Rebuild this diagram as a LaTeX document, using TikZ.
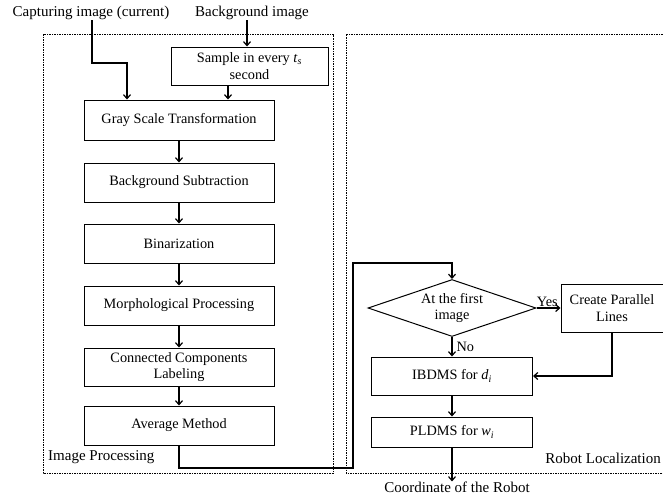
\documentclass[tikz,border=0pt]{standalone}
\usepackage{fontspec}
\setmainfont{Liberation Serif}
\usetikzlibrary{shapes.geometric,arrows.meta}
\begin{document}
\begin{tikzpicture}[x=1pt,y=-1pt,
  txt/.style={font=\fontsize{14.3}{16.5}\selectfont, inner sep=0pt, align=center},
  lbl/.style={font=\fontsize{15}{17}\selectfont, inner sep=0pt},
  box/.style={txt, draw, line width=1pt, minimum width=190pt},
  smallbox/.style={txt, draw, line width=1pt, minimum width=161pt},
  decision/.style={txt, draw, line width=1pt, diamond, aspect=2.95, minimum width=168pt, minimum height=57pt},
  conn/.style={line width=1.2pt, -{Straight Barb[length=4pt,width=7pt]}},
  frame/.style={dash pattern=on 1.5pt off 1pt, line width=0.7pt}]
\useasboundingbox (0,0) rectangle (663,496);

% frames
\draw[frame] (43,34) rectangle (333,473);
\draw[frame] (662.9,34) -- (346,34) -- (346,473) -- (662.9,473);

% inputs / outputs
\node[lbl] (cap) at (91,13) {Capturing image (current)};
\node[lbl] (bg) at (252,13) {Background image};
\node[lbl] (coord) at (457,487) {Coordinate of the Robot};
\node[lbl, anchor=west] (iplbl) at (48,457) {Image Processing};
\node[lbl, anchor=east] (rllbl) at (661,458) {Robot Localization};

% left column
\node[box, minimum width=157pt, minimum height=38pt] (sample) at (249.5,66) {Sample in every \textit{t}\textsubscript{\textit{s}}\\second};
\node[box, minimum height=40pt] (gray) at (179,120) {Gray Scale Transformation};
\node[box, minimum height=39pt] (bgsub) at (179,182.5) {Background Subtraction};
\node[box, minimum height=39pt] (bin) at (179,243.5) {Binarization};
\node[box, minimum height=39pt] (morph) at (179,305.5) {Morphological Processing};
\node[box, minimum height=38pt] (cc) at (179,367) {Connected Components\\Labeling};
\node[box, minimum height=39pt] (avg) at (179,425.5) {Average Method};

% right column
\node[decision] (dia) at (452,308) {At the first\\image};
\node[txt, draw, line width=1pt, minimum width=102pt, minimum height=48pt] (create) at (612,308) {Create Parallel\\Lines};
\node[smallbox, minimum height=38pt] (ibdms) at (452,376) {IBDMS for \textit{d}\textsubscript{\textit{i}}};
\node[smallbox, minimum height=30pt] (pldms) at (452,432) {PLDMS for \textit{w}\textsubscript{\textit{i}}};

% connectors, left
\coordinate (c1) at (127,63);
\draw[conn] (cap.south -| 92,0) |- (c1) -- (c1 |- gray.north);
\draw[conn] (bg.south -| 247,0) -- (sample.north -| 247,0);
\draw[conn] (sample.south -| 228,0) -- (gray.north -| 228,0);
\draw[conn] (gray) -- (bgsub);
\draw[conn] (bgsub) -- (bin);
\draw[conn] (bin) -- (morph);
\draw[conn] (morph) -- (cc);
\draw[conn] (cc) -- (avg);

% link between panels
\coordinate (r1) at (353,468);
\coordinate (r2) at (353,263);
\draw[conn] (avg.south) |- (r1) -- (r2) -| (dia.north);

% connectors, right
\draw[conn] (dia.east) -- (create.west) node[txt, pos=0.45, above=1pt] {Yes};
\draw[conn] (create.south) |- (ibdms.east);
\draw[conn] (dia.south) -- (ibdms.north) node[txt, midway, right=4pt] {No};
\draw[conn] (ibdms) -- (pldms);
\draw[conn] (pldms.south) -- (pldms.south |- coord.north);
\end{tikzpicture}
\end{document}
